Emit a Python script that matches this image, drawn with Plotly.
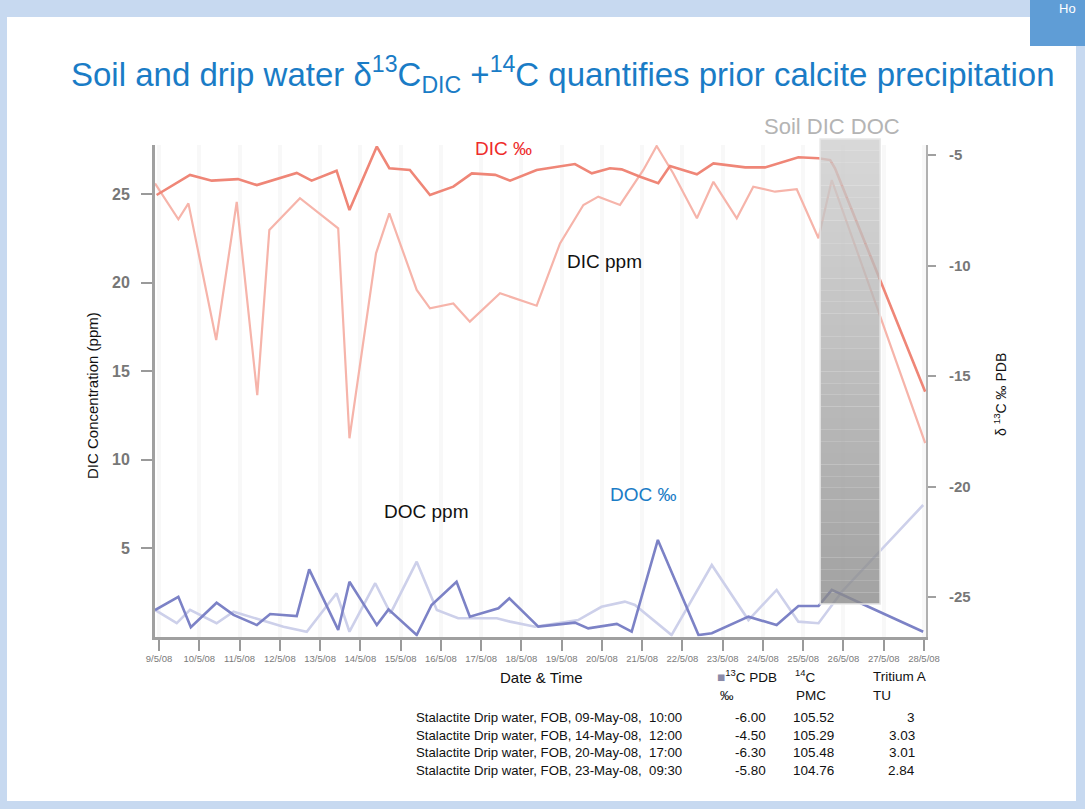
import plotly.graph_objects as go

# ---------------- data ----------------
tick_days = list(range(9, 29))
tick_labels = [f"{d}/5/08" for d in tick_days]

dic_permil_day = [8.94, 9.77, 10.31, 10.96, 11.43, 12.42, 12.79, 13.41, 13.73, 14.41, 14.72, 15.23,
                  15.73, 16.31, 16.77, 17.35, 17.72, 18.38, 19.33, 19.75, 20.20, 20.49, 20.95, 21.40,
                  21.69, 22.36, 22.77, 23.56, 24.05, 24.88, 25.38, 25.67, 25.79, 28.03]
dic_permil = [-6.81, -5.90, -6.16, -6.09, -6.36, -5.81, -6.16, -5.71, -7.49, -4.62, -5.60, -5.68,
              -6.81, -6.43, -5.83, -5.90, -6.16, -5.68, -5.41, -5.83, -5.60, -5.65, -5.98, -6.28,
              -5.50, -5.87, -5.38, -5.56, -5.56, -5.10, -5.15, -5.23, -5.60, -15.71]

dic_ppm_day = [8.90, 9.48, 9.73, 10.42, 10.93, 11.44, 11.74, 12.50, 13.45, 13.73, 14.39, 14.72,
               15.40, 15.73, 16.31, 16.72, 17.47, 18.38, 18.96, 19.54, 19.91, 20.45, 21.03, 21.36,
               21.77, 22.36, 22.77, 23.35, 23.76, 24.30, 24.84, 25.38, 25.71, 28.03]
dic_ppm = [25.60, 23.57, 24.47, 16.75, 24.56, 13.64, 22.97, 24.76, 23.06, 11.20, 21.65, 23.91,
           19.58, 18.54, 18.82, 17.79, 19.39, 18.69, 22.21, 24.38, 24.85, 24.38, 26.36, 27.71,
           26.17, 23.63, 25.69, 23.63, 25.41, 25.13, 25.27, 22.50, 25.79, 10.93]

doc_permil_day = [8.90, 9.48, 9.79, 10.43, 10.85, 11.43, 11.76, 12.42, 12.73, 13.45, 13.73, 14.41,
                  14.70, 15.40, 15.77, 16.39, 16.72, 17.43, 17.70, 18.42, 19.33, 19.66, 20.37, 20.74,
                  21.39, 22.40, 22.73, 23.64, 24.34, 24.88, 25.38, 25.71, 26.62, 27.98]
doc_permil = [-25.59, -24.99, -26.37, -25.26, -25.81, -26.27, -25.77, -25.86, -23.75, -26.49, -24.31,
              -26.27, -25.56, -26.72, -25.36, -24.31, -25.89, -25.51, -25.06, -26.34, -26.16, -26.42,
              -26.22, -26.57, -22.42, -26.72, -26.64, -25.89, -26.27, -25.41, -25.41, -24.68, -25.44,
              -26.57]

doc_ppm_day = [8.90, 9.44, 9.77, 10.43, 10.85, 11.51, 12.09, 12.67, 13.41, 13.73, 14.37, 14.75,
               15.40, 15.90, 16.43, 17.39, 17.72, 18.34, 19.41, 19.99, 20.57, 20.82, 21.73, 22.73,
               23.64, 24.34, 24.88, 25.38, 25.96, 27.98]
doc_ppm = [1.50, 0.75, 1.50, 0.75, 1.40, 0.93, 0.55, 0.27, 2.44, 0.27, 3.01, 1.31,
           4.23, 1.50, 1.03, 1.03, 0.84, 0.55, 0.93, 1.68, 1.97, 1.78, 0.08, 4.04,
           0.93, 2.63, 0.84, 0.75, 2.53, 7.43]

left_ticks = [5, 10, 15, 20, 25]
right_ticks = [-25, -20, -15, -10, -5]

soil_band_days = [25.42, 26.91]

table_samples = ["Stalactite Drip water, FOB, 09-May-08,  10:00",
                 "Stalactite Drip water, FOB, 14-May-08,  12:00",
                 "Stalactite Drip water, FOB, 20-May-08,  17:00",
                 "Stalactite Drip water, FOB, 23-May-08,  09:30"]
table_d13c = ["-6.00", "-4.50", "-6.30", "-5.80"]
table_c14 = ["105.52", "105.29", "105.48", "104.76"]
table_tritium = ["3", "3.03", "3.01", "2.84"]

# ---------------- figure ----------------
W, H = 1085, 809
FONT = "Liberation Sans, Arial, sans-serif"


def px(x):
    return x / W


def py(y):
    return 1 - y / H


fig = go.Figure()

fig.add_trace(go.Scatter(x=dic_ppm_day, y=dic_ppm, mode="lines", name="DIC ppm",
                         line=dict(color="#f6b4aa", width=2.2), yaxis="y"))
fig.add_trace(go.Scatter(x=dic_permil_day, y=dic_permil, mode="lines", name="DIC ‰",
                         line=dict(color="#ef8677", width=2.6), yaxis="y2"))
fig.add_trace(go.Scatter(x=doc_ppm_day, y=doc_ppm, mode="lines", name="DOC ppm",
                         line=dict(color="#cdd0ea", width=2.6), yaxis="y"))
fig.add_trace(go.Scatter(x=doc_permil_day, y=doc_permil, mode="lines", name="DOC ‰",
                         line=dict(color="#7c82c6", width=2.6), yaxis="y2"))

shapes = []
# slide frame
shapes.append(dict(type="rect", xref="paper", yref="paper", x0=px(7), x1=px(1076),
                   y0=py(801), y1=py(17), fillcolor="white", line=dict(width=0), layer="below"))
shapes.append(dict(type="rect", xref="paper", yref="paper", x0=px(1030), x1=px(1085),
                   y0=py(46), y1=py(0), fillcolor="#5f9dd6", line=dict(width=0), layer="below"))

# gradient grey band (Soil DIC DOC)
n_bands = 40
top_px, bot_px = 139, 604
c_top, c_bot = 207, 138
for i in range(n_bands):
    y0p = top_px + (bot_px - top_px) * i / n_bands
    y1p = top_px + (bot_px - top_px) * (i + 1) / n_bands
    c = int(round(c_top + (c_bot - c_top) * (i + 0.5) / n_bands))
    shapes.append(dict(type="rect", xref="x", yref="paper", x0=soil_band_days[0], x1=soil_band_days[1],
                       y0=py(y1p), y1=py(y0p), fillcolor=f"rgb({c},{c},{c})", opacity=0.8,
                       line=dict(width=0), layer="above"))
shapes.append(dict(type="rect", xref="x", yref="paper", x0=soil_band_days[0], x1=soil_band_days[1],
                   y0=py(bot_px), y1=py(top_px), fillcolor="rgba(0,0,0,0)",
                   line=dict(color="#e6e6e6", width=1.5), layer="above"))

annotations = []


def txt(text, x, y, size, color="#111", xanchor="center", yanchor="middle", textangle=0, family=FONT):
    annotations.append(dict(text=text, x=px(x), y=py(y), xref="paper", yref="paper",
                            showarrow=False, xanchor=xanchor, yanchor=yanchor, borderpad=0,
                            font=dict(size=size, color=color, family=family), textangle=textangle))


txt("Soil and drip water δ<sup>13</sup>C<sub>DIC</sub> +<sup>14</sup>C quantifies prior calcite precipitation",
    563, 74, 33, "#1a7cc6")
txt("Ho", 1058, 8, 13, "white", xanchor="left")
txt("Soil DIC DOC", 832, 126, 22, "#b4b4b4")
txt("DIC ‰", 503, 148, 19, "#ee2b2b")
txt("DIC ppm", 604, 262, 19, "#111")
txt("DOC ppm", 426, 512, 19, "#111")
txt("DOC ‰", 643, 494, 19, "#1a7cc6")
txt("DIC Concentration (ppm)", 93, 396, 15, "#111", textangle=-90)
txt("δ <sup>13</sup>C ‰ PDB", 1000, 395, 14, "#111", textangle=-90)
txt("Date & Time", 541, 677, 15, "#111")

# table
txt("<span style='color:#8a8aa8'>■</span><sup>13</sup>C PDB", 716, 676, 13.5, "#111", xanchor="left")
txt("<sup>14</sup>C", 794, 676, 13.5, "#111", xanchor="left")
txt("Tritium A", 872, 676, 13.5, "#111", xanchor="left")
txt("‰", 719, 695, 13.5, "#111", xanchor="left")
txt("PMC", 795, 695, 13.5, "#111", xanchor="left")
txt("TU", 872, 695, 13.5, "#111", xanchor="left")
row_y = [717, 735, 752, 770]
for s, a, b, c, yy in zip(table_samples, table_d13c, table_c14, table_tritium, row_y):
    txt(s, 415, yy, 13.2, "#111", xanchor="left")
    txt(a, 767, yy, 13.5, "#111", xanchor="right")
    txt(b, 835, yy, 13.5, "#111", xanchor="right")
    txt(c, 916, yy, 13.5, "#111", xanchor="right")

x_dom = [px(155), px(926)]
y_dom = [py(636.5), py(145)]
left_range = [0, (636.5 - 145) / 17.7]
right_range = [-25 - (636.5 - 597) / 22.1, -5 + (155 - 145) / 22.1]

fig.update_layout(
    width=W, height=H,
    margin=dict(l=0, r=0, t=0, b=0, autoexpand=False),
    paper_bgcolor="#c7d9f0",
    plot_bgcolor="rgba(0,0,0,0)",
    showlegend=False,
    font=dict(family=FONT),
    shapes=shapes,
    annotations=annotations,
    xaxis=dict(domain=x_dom, range=[8.90, 28.05], tickvals=tick_days, ticktext=tick_labels,
               tickangle=0, tickfont=dict(size=9.5, color="#7a7a7a"), ticks="outside", ticklen=11,
               tickwidth=2, tickcolor="#9a9a9a", showline=True, linecolor="#a0a0a0", linewidth=3,
               showgrid=True, gridcolor="#f8f8f8", gridwidth=4, zeroline=False,
               layer="below traces", automargin=False),
    yaxis=dict(domain=y_dom, range=left_range, tickvals=left_ticks, ticks="outside", ticklen=11,
               tickwidth=2, tickcolor="#9a9a9a", showline=True, linecolor="#a0a0a0", linewidth=3,
               tickfont=dict(size=16, color="#777", weight="bold"), showgrid=False, zeroline=False,
               ticklabelstandoff=8, automargin=False),
    yaxis2=dict(domain=y_dom, range=right_range, overlaying="y", side="right", anchor="x",
                tickvals=right_ticks, ticktext=[str(t) for t in right_ticks], ticks="outside",
                ticklen=8, tickwidth=2, tickcolor="#a0a0a0", showline=True, linecolor="#b0b0b0",
                linewidth=2, tickfont=dict(size=15, color="#777", weight="bold"), showgrid=False,
                zeroline=False, automargin=False, ticklabelstandoff=10),
)

fig.write_html("out.html", config={"displayModeBar": False},
               post_script="document.body.style.margin='0';document.body.style.padding='0';"
                           "document.documentElement.style.overflow='hidden';")
